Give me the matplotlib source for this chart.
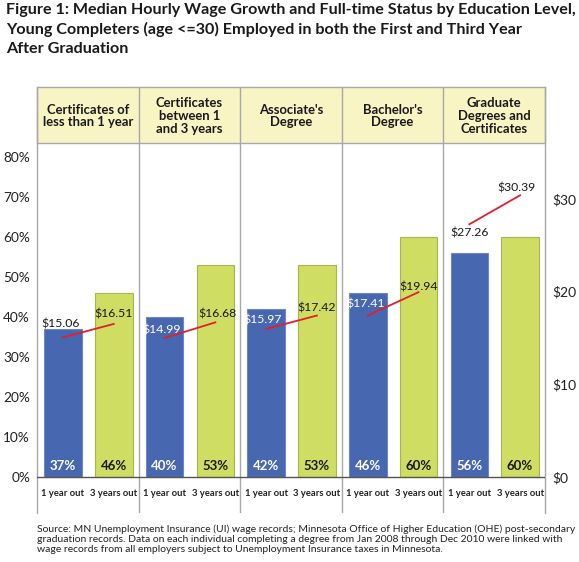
import numpy as np
import matplotlib.pyplot as plt
from matplotlib.patches import Rectangle

plt.rcParams['font.family'] = ['Lato', 'DejaVu Sans']

# data
categories = ['Certificates of\nless than 1 year', 'Certificates\nbetween 1\nand 3 years',
              "Associate's\nDegree", "Bachelor's\nDegree", 'Graduate\nDegrees and\nCertificates']
pct_1yr = [37, 40, 42, 46, 56]
pct_3yr = [46, 53, 53, 60, 60]
wage_1yr = [15.06, 14.99, 15.97, 17.41, 27.26]
wage_3yr = [16.51, 16.68, 17.42, 19.94, 30.39]
bar_labels = ['1 year out', '3 years out']
left_ticks = [0, 10, 20, 30, 40, 50, 60, 70, 80]
right_ticks = [0, 10, 20, 30]

BLUE = '#4767B0'
GREEN = '#CFDD63'
GRID = '#A8A8A8'
HEAD = '#F8F4C4'

W, H = 579, 562
fig = plt.figure(figsize=(W / 100, H / 100), dpi=100)

# axes in pixel terms: x 37..545, y 87..513 (top..bottom), 0% at y=477, 4 px per %
x0, x1 = 37, 545
ytop, ybot = 87, 513
base = 477
ppp = 4.0          # pixels per percent
ppd = 9.27         # pixels per dollar
ax = fig.add_axes([x0 / W, 1 - ybot / H, (x1 - x0) / W, (ybot - ytop) / H])
ylo = -(ybot - base) / ppp
yhi = (base - ytop) / ppp
ax.set_ylim(ylo, yhi)
ax.set_xlim(0, 5)

n = len(categories)
x = np.arange(n)
bw = 0.37
bx1 = x + 0.255
bx3 = x + 0.755
ax.bar(bx1, pct_1yr, width=bw, color=BLUE, edgecolor='#6F88C4', linewidth=0.8, zorder=3)
ax.bar(bx3, pct_3yr, width=bw, color=GREEN, edgecolor='#A9B54A', linewidth=0.8, zorder=3)

for i in range(n):
    ax.text(bx1[i], 2.8, f'{pct_1yr[i]}%', color='white', fontsize=9.5, fontweight='bold',
            ha='center', va='center', zorder=5)
    ax.text(bx3[i], 2.8, f'{pct_3yr[i]}%', color='#1a1a1a', fontsize=9.5, fontweight='bold',
            ha='center', va='center', zorder=5)
    ax.text(bx1[i], -4.25, bar_labels[0], fontsize=6.8, fontweight='bold', color='#222222',
            ha='center', va='center')
    ax.text(bx3[i], -4.25, bar_labels[1], fontsize=6.8, fontweight='bold', color='#222222',
            ha='center', va='center')

# header box
hbot = (base - 143) / ppp
ax.add_patch(Rectangle((0, hbot), 5, yhi - hbot, facecolor=HEAD, edgecolor=GRID,
                       linewidth=1.0, zorder=1, clip_on=False))
for i in range(n):
    ax.text(x[i] + 0.5, (base - 116) / ppp, categories[i], fontsize=9.4, fontweight='bold',
            color='#1a1a1a', ha='center', va='center', linespacing=1.08, zorder=4)

# dividers
for xv in range(1, n):
    ax.axvline(xv, color=GRID, linewidth=1.0, zorder=2)
ax.axhline(0, xmin=0, xmax=1, color='#555555', linewidth=1.0, zorder=4)

for s in ['top', 'bottom']:
    ax.spines[s].set_visible(False)
for s in ['left', 'right']:
    ax.spines[s].set_color(GRID)
    ax.spines[s].set_linewidth(1.0)
ax.set_xticks([])
ax.set_yticks(left_ticks)
ax.set_yticklabels([f'{t}%' for t in left_ticks], fontsize=9.8, color='#222222')
ax.tick_params(axis='y', length=0, pad=5)

# wage axis
ax2 = ax.twinx()
ax2.set_ylim(ylo * ppp / ppd, yhi * ppp / ppd)
for s in ax2.spines.values():
    s.set_visible(False)
ax2.set_yticks(right_ticks)
ax2.set_yticklabels([f'${t}' for t in right_ticks], fontsize=10, color='#222222')
ax2.tick_params(axis='y', length=0, pad=5)

off_1yr = [(-2, 13), (-3, 8), (-3, 9), (-2, 12), (0, -9)]
off_3yr = [(0, 10), (2, 8), (0, 8), (0, 5), (-4, 7)]
col_1yr = ['#1a1a1a', 'white', 'white', 'white', '#1a1a1a']
for i in range(n):
    ax2.plot([bx1[i], bx3[i]], [wage_1yr[i], wage_3yr[i]], color='#E0202A', linewidth=1.3, zorder=6)
    ax2.annotate(f'${wage_1yr[i]:.2f}', (bx1[i], wage_1yr[i]), xytext=off_1yr[i],
                 textcoords='offset pixels', ha='center', va='center', fontsize=8.8,
                 color=col_1yr[i], zorder=7)
    ax2.annotate(f'${wage_3yr[i]:.2f}', (bx3[i], wage_3yr[i]), xytext=off_3yr[i],
                 textcoords='offset pixels', ha='center', va='center', fontsize=8.8,
                 color='#1a1a1a', zorder=7)

# title and source
title = ('Figure 1: Median Hourly Wage Growth and Full-time Status by Education Level,\n'
         'Young Completers (age <=30) Employed in both the First and Third Year\n'
         'After Graduation')
fig.text(6 / W, 1 - 3 / H, title, fontsize=11.6, fontweight='bold', color='#1a1a1a',
         ha='left', va='top', linespacing=1.42)
source = ('Source: MN Unemployment Insurance (UI) wage records; Minnesota Office of Higher Education (OHE) post-secondary\n'
          'graduation records. Data on each individual completing a degree from Jan 2008 through Dec 2010 were linked with\n'
          'wage records from all employers subject to Unemployment Insurance taxes in Minnesota.')
fig.text(37 / W, 1 - 524 / H, source, fontsize=7.5, color='#222222', ha='left', va='top',
         linespacing=1.2)

fig.savefig('out.png', dpi=100)
